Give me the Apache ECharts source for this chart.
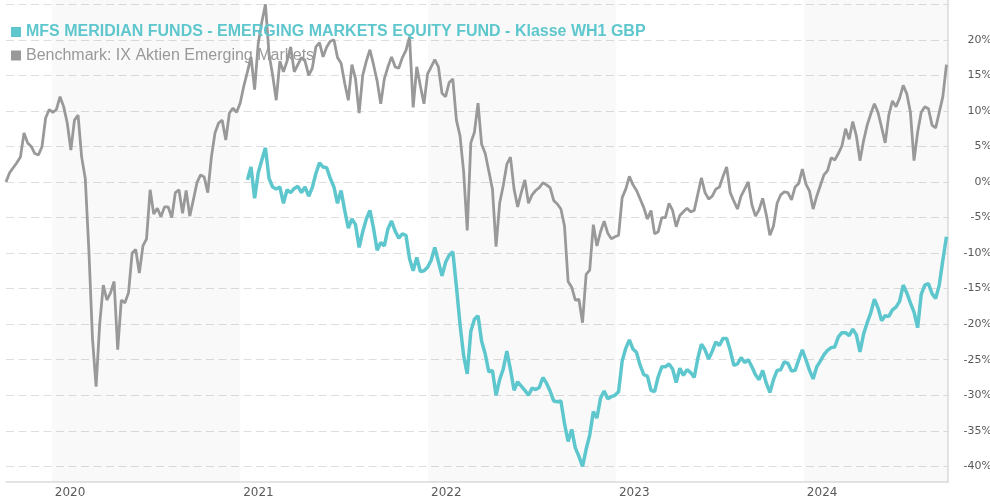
<!DOCTYPE html>
<html>
<head>
<meta charset="utf-8">
<script src="https://cdn.jsdelivr.net/npm/echarts@6/dist/echarts.min.js"></script>
<style>
html, body { margin: 0; padding: 0; background: #fff; }
#chart { width: 990px; height: 500px; }
</style>
</head>
<body>
<div id="chart"></div>
<script>
var fundName = 'MFS MERIDIAN FUNDS - EMERGING MARKETS EQUITY FUND - Klasse WH1 GBP';
var benchName = 'Benchmark: IX Aktien Emerging Markets';

// weekly performance in %, first week is firstWeek
var firstWeek = '2019-10-04';
var benchValues = [
  0, 1.3, 2, 2.7, 3.5, 6.9, 5.5, 5, 4, 3.8,
  5, 9, 10.2, 9.8, 10.2, 12, 10.6, 8.3, 4.5, 8.7,
  9.4, 3.5, 0.5, -9.6, -22, -28.8, -20, -14.5, -16.6, -15.6,
  -14, -23.6, -16.6, -17, -15.6, -10, -9.5, -12.8, -9, -8,
  -1.1, -4.5, -3.7, -4.9, -3.5, -3.5, -5, -1.5, -1.1, -4.4,
  -1.2, -4.8, -2.5, -0.1, 1, 0.7, -1.5, 3.5, 6.9, 8.3,
  8.7, 5.9, 9.7, 10.4, 9.8, 11.1, 13.5, 15.5, 17.6, 13,
  19.5, 22.5, 25, 18, 15, 11.5, 17, 15.5, 17, 19,
  15.5, 16.5, 17.5, 17, 15, 16, 19, 19.6, 17.6, 19,
  19.8, 20, 17.5, 16.7, 13.9, 11.5, 16.5, 14.5, 9.7, 15,
  17, 18.6, 16.5, 14.2, 11, 14.5, 16.2, 17.6, 16.2, 16,
  17.5, 18.5, 20.4, 10.5, 16.2, 13.5, 11, 15.2, 16.2, 17.2,
  16.2, 12.5, 12, 14, 14.5, 8.7, 6.5, 1.5, -6.8, 5.5,
  7, 11.1, 5.3, 4, 1.5, -1, -9.1, -3, -0.5, 2.5,
  3.5, -1, -3.5, -1.5, 0.3, -3, -1.8, -1.2, -0.8, -0.1,
  -0.4, -0.8, -2.6, -3.1, -3.8, -6.2, -14, -14.8, -16.6, -16.5,
  -19.8, -13, -12.4, -6, -9, -7, -5.5, -7.2, -8, -7.7,
  -7.5, -2.2, -1, 0.8, -0.4, -1.2, -2.4, -3.6, -5.2, -4,
  -7.3, -7, -5, -5, -3, -4, -6.3, -4.7, -4.2, -3.7,
  -4.2, -4, -1.7, 0.6, -1.5, -2.4, -2, -1, -0.7, 0.8,
  2.1, -1.5, -2.7, -3.8, -2, -1, 0, -3.2, -4.8, -3.9,
  -2.3, -4.6, -7.5, -6.2, -3, -1.8, -1.4, -1.5, -2.5, -0.7,
  -0.2, 1.8, -0.3, -1.3, -3.8, -2, -0.5, 1, 1.6, 3.4,
  3.1, 4, 5.1, 7.5, 6, 8.5, 6.5, 3, 5.8, 8,
  9.6, 11, 9.8, 7.7, 5.5, 9.4, 11.4, 10.6, 11.8, 13.6,
  12.4, 9.8, 3, 7, 9.8, 10.6, 10.3, 8, 7.6, 9.8,
  12, 16.5
];

// fund share class starts in week 67 (Jan 2021)
var fundStartWeek = 67;
var fundValues = [
  0.3, 2.1, -2.3,
  1.3, 3.1, 4.8, 0.5, -0.7, -1, -0.7, -3, -1.1, -1.5,
  -0.9, -0.6, -1.5, -0.7, -2, -0.8, 1.2, 2.7, 2.1, 2,
  0.5, -0.7, -3, -1.2, -4, -6.5, -5.2, -6, -9.2, -7,
  -5.2, -4, -6.5, -9.6, -8.5, -9, -6.6, -5.5, -6.9, -7.9,
  -7.3, -7.5, -10.8, -12.5, -10.6, -12.6, -12.5, -12, -11, -9.2,
  -11.2, -13.2, -11.3, -10.3, -9.8, -14.7, -20, -24.4, -27, -21,
  -19.3, -18.8, -22.4, -24.2, -26.7, -26.5, -30, -27.8, -26.3, -23.8,
  -26.4, -29.3, -28.1, -28.7, -29.3, -30, -29, -29.2, -28.9, -27.5,
  -28.3, -29.4, -30.8, -30.9, -30.8, -34, -36.5, -34.8, -37.4, -38.6,
  -40, -37.6, -35.6, -32.3, -33.2, -30.4, -29.4, -30.5, -30.2, -30,
  -29.5, -25.2, -23.4, -22.2, -23.5, -24, -25.8, -27.1, -27.3, -29.3,
  -29.5, -27.4, -26, -26, -25.6, -26.3, -28.2, -26.2, -27.2, -26.4,
  -26.8, -27.5, -24.8, -22.8, -23.6, -24.9, -23.8, -22.5, -23, -22,
  -22, -23.7, -25.8, -25.6, -24.7, -25.4, -25, -26, -27.1, -27.8,
  -26.5, -28.3, -29.6, -27.8, -26.5, -26.4, -25.3, -25.5, -26.6, -26.5,
  -25, -23.6, -25, -26.5, -27.7, -26, -25.2, -24.3, -23.7, -23.3,
  -23.2, -21.8, -21.2, -21.2, -21.6, -20.7, -21.5, -23.9, -21.4, -19.8,
  -18.4, -16.5, -17.7, -19.5, -18.8, -18.9, -18, -17.6, -16.8, -14.5,
  -15.6, -17, -18.3, -20.5, -15.8, -14.5, -14.3, -15.7, -16.4, -14.5,
  -11, -7.7
];

// alternating year bands
var shadedYears = [
  ['2020-01-01', '2021-01-01'],
  ['2022-01-01', '2023-01-01'],
  ['2024-01-01', '2024-10-07']
];
var axisStart = '2019-10-04';
var axisEnd = '2024-10-07';
var yMin = -42.2, yMax = 25.6;
var labelledLow = -40, labelledHigh = 20;

var fundColor = '#5ec7ce';
var benchColor = '#999999';

// week dates
var weeks = [];
var t0 = new Date(firstWeek + 'T00:00:00').getTime();
for (var i = 0; i < benchValues.length; i++) {
  weeks.push(t0 + i * 7 * 86400000);
}
var benchData = benchValues.map(function (v, i) { return [weeks[i], v]; });
var fundData = fundValues.map(function (v, k) { return [weeks[fundStartWeek + k], v]; });

var chart = echarts.init(document.getElementById('chart'));
chart.setOption({
  animation: false,
  grid: { left: 6, right: 42, top: 0, bottom: 18, containLabel: false, outerBoundsMode: 'none' },
  legend: {
    orient: 'vertical',
    left: 11,
    top: 24,
    padding: 0,
    itemWidth: 10,
    itemHeight: 10,
    itemGap: 7.5,
    icon: 'rect',
    selectedMode: false,
    data: [
      { name: fundName, textStyle: { color: fundColor, fontWeight: 'bold' } },
      { name: benchName, textStyle: { color: benchColor } }
    ],
    textStyle: { fontFamily: 'Liberation Sans, Arial, sans-serif', fontSize: 16, lineHeight: 16 }
  },
  xAxis: {
    type: 'time',
    min: axisStart,
    max: axisEnd,
    splitNumber: 5,
    axisLine: { onZero: false, lineStyle: { color: '#dcdcdc', width: 1.5 } },
    axisTick: { show: false },
    splitLine: { show: false },
    axisLabel: {
      align: 'left',
      margin: 5,
      padding: [0, 0, 0, 3],
      color: '#5a5a5a',
      fontFamily: 'DejaVu Sans, sans-serif',
      fontSize: 12,
      hideOverlap: false,
      formatter: function (val) {
        var d = new Date(val);
        return (d.getMonth() === 0 && d.getDate() === 1) ? String(d.getFullYear()) : '';
      }
    }
  },
  yAxis: {
    type: 'value',
    position: 'right',
    min: yMin,
    max: yMax,
    splitNumber: 13,
    axisLine: { show: true, lineStyle: { color: '#dcdcdc', width: 1.5 } },
    axisTick: { show: false },
    splitLine: {
      show: true,
      showMinLine: false,
      showMaxLine: false,
      lineStyle: { color: '#dedede', type: [8, 4.5], width: 1 }
    },
    axisLabel: {
      align: 'right',
      margin: 44,
      color: '#5a5a5a',
      fontFamily: 'DejaVu Sans, sans-serif',
      fontSize: 11,
      formatter: function (v) {
        var r = Math.round(v * 10) / 10;
        if (r < labelledLow || r > labelledHigh || r % 5 !== 0) return '';
        return r + '%';
      }
    }
  },
  series: [
    {
      name: fundName,
      type: 'line',
      data: fundData,
      showSymbol: false,
      symbol: 'none',
      lineStyle: { color: fundColor, width: 3.5 },
      itemStyle: { color: fundColor },
      z: 3
    },
    {
      name: benchName,
      type: 'line',
      data: benchData,
      showSymbol: false,
      symbol: 'none',
      lineStyle: { color: benchColor, width: 2.8 },
      itemStyle: { color: benchColor },
      z: 2,
      markArea: {
        silent: true,
        itemStyle: { color: 'rgba(0,0,0,0.025)' },
        data: shadedYears.map(function (b) { return [{ xAxis: b[0] }, { xAxis: b[1] }]; })
      }
    }
  ]
});
</script>
</body>
</html>
